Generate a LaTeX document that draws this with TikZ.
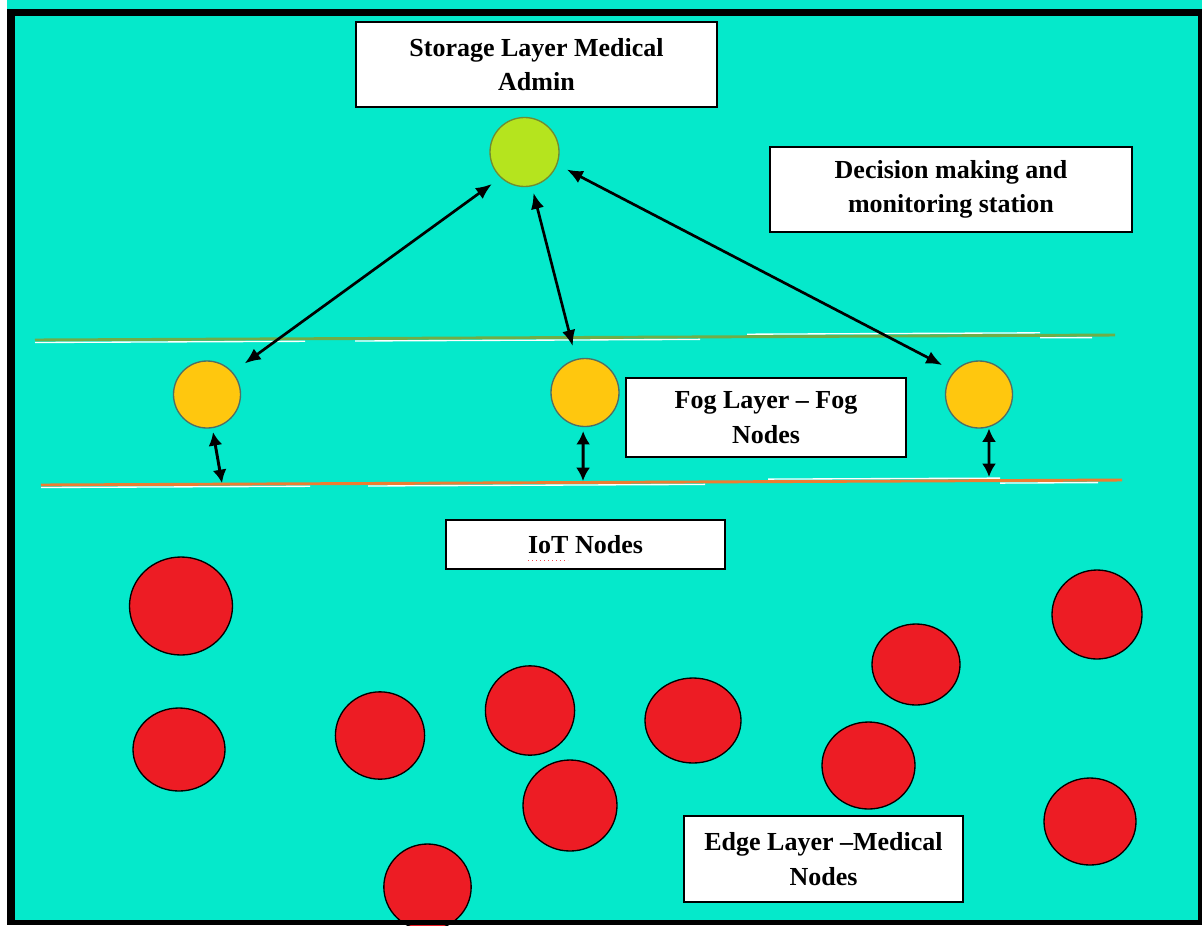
\documentclass[tikz,border=0pt]{standalone}
\usepackage{fontspec}
\setmainfont{Liberation Serif}
\usetikzlibrary{arrows.meta,shapes.geometric}

\definecolor{sea}{RGB}{5,233,203}
\definecolor{nodered}{RGB}{237,28,36}
\definecolor{foggold}{RGB}{255,199,14}
\definecolor{adminlime}{RGB}{181,228,30}
\definecolor{rimolive}{RGB}{112,140,50}
\definecolor{rimslate}{RGB}{80,110,100}
\definecolor{fogline}{RGB}{112,173,71}
\definecolor{edgeline}{RGB}{237,125,49}

\begin{document}
\begin{tikzpicture}[x=0.75pt,y=-0.75pt,
  labelbox/.style={draw=black, line width=1.5pt, fill=white, inner sep=0pt,
    align=center, font=\bfseries\fontsize{19.5}{26}\selectfont},
  adminnode/.style={circle, fill=adminlime, draw=rimolive, line width=1pt,
    minimum size=51.75pt, inner sep=0pt},
  fognode/.style={circle, fill=foggold, draw=rimslate, line width=1pt,
    minimum size=50.25pt, inner sep=0pt},
  medicalnode/.style={ellipse, fill=nodered, draw=black, line width=1pt, inner sep=0pt},
  longlink/.style={line width=2pt, {Latex[length=12pt,width=10pt]}-{Latex[length=12pt,width=10pt]}},
  shortlink/.style={line width=2.2pt, {Latex[length=10pt,width=10.5pt]}-{Latex[length=10pt,width=10.5pt]}},
  layerrule/.style={line width=2.2pt},
  glint/.style={white, line width=1pt}
]
\useasboundingbox (0,0) rectangle (1202,925);

% canvas
\fill[white] (0,0) rectangle (1202,925);
\fill[sea] (7,0) rectangle (1202,925);

% layer separators with their light glints
\draw[layerrule, fogline] (35,340) -- (1115,335);
\draw[glint] (35,342.5) -- (305,341.3);
\draw[glint] (355,341) -- (700,339.4);
\draw[glint] (747,334.2) -- (1040,332.8);
\draw[glint] (1040,337.8) -- (1092,337.6);

\draw[layerrule, edgeline] (41,485) -- (1122,480);
\draw[glint] (41,487.5) -- (310,486.3);
\draw[glint] (368,486) -- (705,484.4);
\draw[glint] (768,479.1) -- (1000,478.1);
\draw[glint] (1000,483.1) -- (1098,482.6);

% labels
\node[labelbox, minimum width=270.75pt, minimum height=63.75pt] (boxStore) at (536.5,64.5)
  {Storage Layer Medical\\Admin};
\node[labelbox, minimum width=271.5pt, minimum height=63.75pt] (boxDecision) at (951,189.5)
  {Decision making and\\monitoring station};
\node[labelbox, minimum width=210pt, minimum height=59.25pt] (boxFog) at (766,417.5)
  {Fog Layer -- Fog\\Nodes};
\node[labelbox, minimum width=209.25pt, minimum height=36.75pt] (boxIoT) at (585.5,544.5)
  {IoT Nodes};
\draw[nodered!80, line width=0.5pt, dash pattern=on 1pt off 2pt] (528,560) -- (568,560);
\node[labelbox, minimum width=209.25pt, minimum height=64.5pt] (boxEdge) at (823.5,859)
  {Edge Layer --Medical\\Nodes};

% storage (admin) node and fog nodes
\node[adminnode] (store) at (524.5,152) {};
\node[fognode] (fogL) at (207,394.5) {};
\node[fognode, minimum size=51pt] (fogM) at (585,392.5) {};
\node[fognode] (fogR) at (979,394.5) {};

% links between storage and fog
\draw[longlink, shorten <=8pt, shorten >=11pt] (store.227) -- (fogL.41);
\draw[longlink, shorten <=5pt, shorten >=10pt] (store.282) -- (fogM.105);
\draw[longlink, shorten <=8pt, shorten >=10pt] (store.339) -- (fogR.137);

% links between fog nodes and the edge boundary
\coordinate (oL) at (222,483);
\coordinate (oM) at (583,481);
\coordinate (oR) at (989,477);
\draw[shortlink, shorten <=3pt] (fogL.-81) -- (oL);
\draw[shortlink, shorten <=3pt] (fogM.-93) -- (oM);
\draw[shortlink, shorten <=1pt] (fogR.-73) -- (oR);

% medical (IoT) nodes
\node[medicalnode, minimum width=77.25pt, minimum height=73.5pt] (e1) at (181,606) {};
\node[medicalnode, minimum width=69pt, minimum height=62.25pt] (e2) at (179,749.5) {};
\node[medicalnode, minimum width=66.9pt, minimum height=65.5pt] (e3) at (380,735.5) {};
\node[medicalnode, minimum width=66.9pt, minimum height=67pt] (e4) at (530,710.5) {};
\node[medicalnode, minimum width=70.5pt, minimum height=68.25pt] (e5) at (570,805.5) {};
\node[medicalnode, minimum width=65.5pt, minimum height=64.5pt] (e6) at (427.5,887) {};
\node[medicalnode, minimum width=67.5pt, minimum height=66.75pt] (e7) at (1097,614.5) {};
\node[medicalnode, minimum width=66pt, minimum height=60.75pt] (e8) at (916,664.5) {};
\node[medicalnode, minimum width=72pt, minimum height=63.75pt] (e9) at (693,720.5) {};
\node[medicalnode, minimum width=69.75pt, minimum height=65.25pt] (e10) at (868.5,765.5) {};
\node[medicalnode, minimum width=69pt, minimum height=65.25pt] (e11) at (1090,821.5) {};

% outer frame
\fill[black] (7,9) rectangle (1202,15.5);
\fill[black] (7,9) rectangle (15,925);
\fill[black] (1198,9) rectangle (1202,925);
\fill[black] (7,920) rectangle (1202,925);
\end{tikzpicture}
\end{document}
